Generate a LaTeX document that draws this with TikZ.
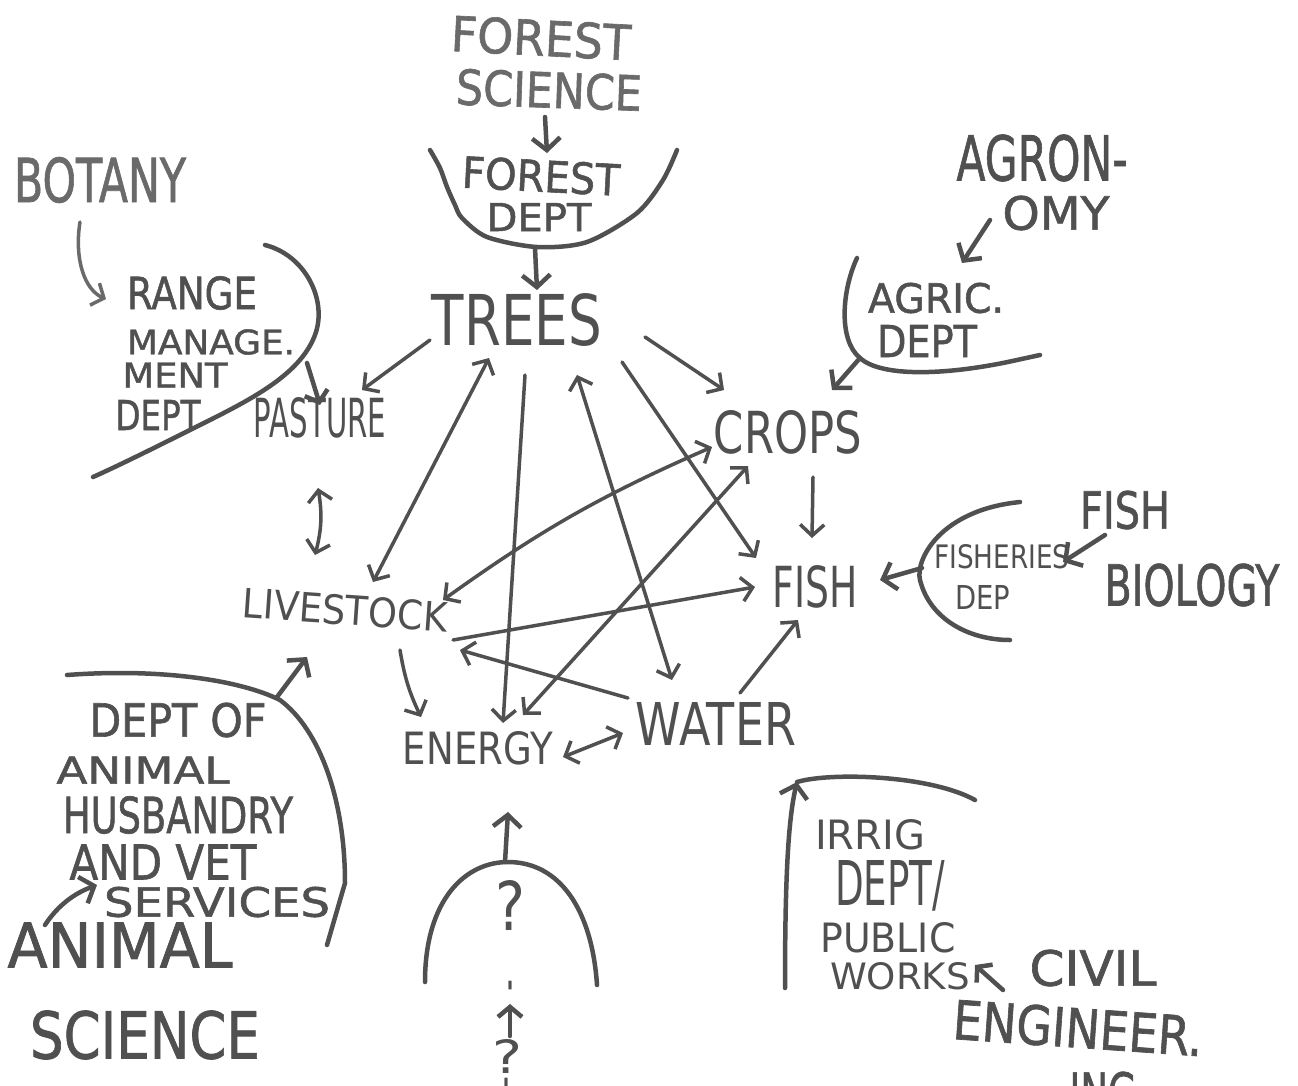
\documentclass[tikz,border=0pt]{standalone}
\usepackage{fontspec}
\setmainfont{DejaVu Sans}
\newfontfamily\mkfont{DejaVu Sans}[FakeBold=1.3]
\usetikzlibrary{arrows.meta}
\definecolor{ink}{HTML}{505050}
\definecolor{inkl}{HTML}{6A6A6A}
\newcommand{\hw}[3]{\resizebox{#1pt}{#2pt}{#3}}
\newcommand{\hb}[3]{\resizebox{#1pt}{#2pt}{\mkfont #3}}
\begin{document}
\begin{tikzpicture}[x=1pt,y=-1pt,
  lbl/.style={inner sep=0pt, text=ink},
  lbll/.style={inner sep=0pt, text=inkl},
  con/.style={draw=ink, line width=3.5pt, line cap=round, line join=round},
  arr/.style={con, -{Straight Barb[length=11pt,width=24pt]}},
  darr/.style={con, {Straight Barb[length=11pt,width=24pt]}-{Straight Barb[length=11pt,width=24pt]}},
  bnd/.style={draw=ink, line width=4.5pt, line cap=round, line join=round},
  barr/.style={bnd, -{Straight Barb[length=12pt,width=28pt]}},
  sarr/.style={bnd, -{Straight Barb[length=10pt,width=24pt]}}]
\useasboundingbox (0,0) rectangle (1298,1085);
\fill[white] (0,0) rectangle (1298,1085);

% ---- text nodes ----
\node[lbll,rotate=-3] (fsci1) at (541,38) {\hb{180}{36}{FOREST}};
\node[lbll,rotate=-2] (fsci2) at (549,90) {\hb{186}{36}{SCIENCE}};
\node[lbl,rotate=-3] (fdep1) at (541,176) {\hb{158}{32}{FOREST}};
\node[lbl] (fdep2) at (539,217) {\hb{105}{28}{DEPT}};
\node[lbl] (trees) at (517,320) {\hw{170}{52}{TREES}};
\node[lbll] (botany) at (100,180) {\hb{172}{45}{BOTANY}};
\node[lbl] (rng1) at (192,293) {\hb{130}{33}{RANGE}};
\node[lbl] (rng2) at (211,342) {\hb{168}{25}{MANAGE.}};
\node[lbl] (rng3) at (175,375) {\hb{105}{25}{MENT}};
\node[lbl] (rng4) at (158,415) {\hb{85}{30}{DEPT}};
\node[lbl] (pasture) at (320,418) {\hw{132}{40}{PASTURE}};
\node[lbl] (agr1) at (1042,158) {\hb{171}{46}{AGRON-}};
\node[lbl] (agr2) at (1056,213) {\hb{107}{34}{OMY}};
\node[lbl] (agd1) at (936,298) {\hb{136}{30}{AGRIC.}};
\node[lbl] (agd2) at (927,341) {\hb{100}{32}{DEPT}};
\node[lbl] (crops) at (788,432) {\hw{148}{43}{CROPS}};
\node[lbl] (fb1) at (1125,510) {\hb{90}{38}{FISH}};
\node[lbl] (fb2) at (1192,585) {\hb{175}{42}{BIOLOGY}};
\node[lbl] (fd1) at (1002,557) {\hw{135}{24}{FISHERIES}};
\node[lbl] (fd2) at (983,597) {\hw{55}{24}{DEP}};
\node[lbl] (fish) at (815,587) {\hw{85}{42}{FISH}};
\node[lbl,rotate=-4] (livestock) at (345,610) {\hw{205}{30}{LIVESTOCK}};
\node[lbl] (energy) at (478,748) {\hw{150}{33}{ENERGY}};
\node[lbl] (water) at (716,724) {\hw{160}{43}{WATER}};
\node[lbl] (ah1) at (178,720) {\hb{177}{34}{DEPT OF}};
\node[lbl] (ah2) at (143,770) {\hb{173}{27}{ANIMAL}};
\node[lbl] (ah3) at (178,815) {\hb{230}{37}{HUSBANDRY}};
\node[lbl] (ah4) at (163,862) {\hb{187}{35}{AND VET}};
\node[lbl] (ah5) at (217,902) {\hb{226}{30}{SERVICES}};
\node[lbl] (as1) at (120,945) {\hb{225}{45}{ANIMAL}};
\node[lbl] (as2) at (145,1035) {\hb{230}{48}{SCIENCE}};
\node[lbl] (q1) at (510,905) {\hw{30}{50}{?}};
\node[lbl] (qd1) at (510,985) {\hb{8}{8}{.}};
\node[lbl] (q2) at (507,1056) {\hw{30}{34}{?}};
\node[lbl] (qd2) at (506,1082) {\hb{8}{8}{.}};
\node[lbl] (ir1) at (870,835) {\hw{110}{30}{IRRIG}};
\node[lbl] (ir2) at (890,886) {\hw{110}{45}{DEPT/}};
\node[lbl] (ir3) at (888,938) {\hw{135}{30}{PUBLIC}};
\node[lbl] (ir4) at (900,976) {\hw{140}{27}{WORKS}};
\node[lbl] (ce1) at (1093,968) {\hb{127}{36}{CIVIL}};
\node[lbl,rotate=-4] (ce2) at (1078,1028) {\hb{250}{40}{ENGINEER.}};
\node[lbl] (ce3) at (1103,1092) {\hb{67}{40}{ING}};

% ---- boundary arcs (departments) ----
\draw[bnd] plot[smooth] coordinates {(430,150) (440,168) (447,187) (455,205) (462,218) (487,237) (537,247) (587,242) (637,213) (663,180) (677,150)};
\draw[bnd] (265,245) .. controls (305,255) and (328,300) .. (315,335) .. controls (300,375) and (250,400) .. (200,425) .. controls (160,445) and (120,465) .. (93,477);
\draw[bnd] (857,258) .. controls (842,290) and (838,340) .. (860,358) .. controls (882,378) and (950,375) .. (1017,360) -- (1040,355);
\draw[bnd] (1020,502) .. controls (940,510) and (915,560) .. (920,580) .. controls (930,620) and (970,640) .. (1010,640);
\draw[bnd] (67,675) .. controls (160,668) and (240,680) .. (280,700) .. controls (320,730) and (345,800) .. (345,883) -- (327,945);
\draw[bnd] (425,982) .. controls (425,900) and (465,862) .. (508,862) .. controls (560,862) and (592,910) .. (597,985);
\coordinate (irtop) at (797,782);
\draw[bnd, -{Straight Barb[length=12pt,width=28pt]}] (785,988) .. controls (785,880) and (788,820) .. (irtop);
\draw[bnd] (irtop) .. controls (830,772) and (930,775) .. (975,800);

% ---- arrow end points ----
\coordinate (a1s) at (545,117); \coordinate (a1e) at (547,153);
\coordinate (a2s) at (535,248); \coordinate (a2e) at (537,290);
\coordinate (bots) at (80,222); \coordinate (bote) at (106,299);
\coordinate (rgs) at (307,363); \coordinate (rge) at (320,405);
\coordinate (agrs) at (990,220); \coordinate (agre) at (962,263);
\coordinate (agds) at (860,358); \coordinate (agde) at (832,390);
\coordinate (fbs) at (1105,535); \coordinate (fbe) at (1063,562);
\coordinate (fds) at (922,568); \coordinate (fde) at (880,580);
\coordinate (ces) at (1003,990); \coordinate (cee) at (975,965);
\coordinate (ahs) at (277,697); \coordinate (ahe) at (307,657);
\coordinate (ass) at (45,925); \coordinate (ase) at (97,885);
\coordinate (qs) at (505,862); \coordinate (qe) at (508,812);
\coordinate (q2s) at (510,1036); \coordinate (q2e) at (510,1004);

\draw[barr] (a1s) -- (a1e);
\draw[barr] (a2s) -- (a2e);
\draw[sarr, line width=3.5pt, draw=inkl] (bots) .. controls (74,260) and (85,290) .. (bote);
\draw[sarr] (rgs) -- (rge);
\draw[barr] (agrs) -- (agre);
\draw[barr] (agds) -- (agde);
\draw[barr] (fbs) -- (fbe);
\draw[barr] (fds) -- (fde);
\draw[sarr] (ces) -- (cee);
\draw[barr] (ahs) -- (ahe);
\draw[barr] (ass) .. controls (58,905) and (75,893) .. (ase);
\draw[barr] (qs) -- (qe);
\draw[sarr] (q2s) -- (q2e);

% ---- central network ----
\coordinate (tp1) at (430,340); \coordinate (pa1) at (362,390);
\coordinate (pa2) at (318,488); \coordinate (ls1) at (315,555);
\coordinate (tl1) at (489,358); \coordinate (tl2) at (373,582);
\coordinate (te1) at (525,375); \coordinate (te2) at (503,723);
\coordinate (tw1) at (577,375); \coordinate (tw2) at (672,680);
\coordinate (tf1) at (622,362); \coordinate (tf2) at (756,558);
\coordinate (tc1) at (645,337); \coordinate (tc2) at (724,390);
\coordinate (lc1) at (443,600); \coordinate (lc2) at (712,447);
\coordinate (ec1) at (523,715); \coordinate (ec2) at (748,466);
\coordinate (lf1) at (453,640); \coordinate (lf2) at (755,587);
\coordinate (wl1) at (628,698); \coordinate (wl2) at (460,650);
\coordinate (le1) at (400,650); \coordinate (le2) at (421,717);
\coordinate (ew1) at (563,757); \coordinate (ew2) at (623,733);
\coordinate (wf1) at (740,693); \coordinate (wf2) at (798,620);
\coordinate (cf1) at (813,477); \coordinate (cf2) at (812,538);

\draw[arr] (tp1) -- (pa1);
\draw[darr] (pa2) to[bend left=12] (ls1);
\draw[darr] (tl1) -- (tl2);
\draw[arr] (te1) -- (te2);
\draw[darr] (tw1) -- (tw2);
\draw[arr] (tf1) -- (tf2);
\draw[arr] (tc1) -- (tc2);
\draw[darr] (lc1) to[bend left=6] (lc2);
\draw[darr] (ec1) -- (ec2);
\draw[arr] (lf1) -- (lf2);
\draw[arr] (wl1) -- (wl2);
\draw[arr] (le1) to[bend right=8] (le2);
\draw[darr] (ew1) -- (ew2);
\draw[arr] (wf1) -- (wf2);
\draw[arr] (cf1) -- (cf2);
\end{tikzpicture}
\end{document}
